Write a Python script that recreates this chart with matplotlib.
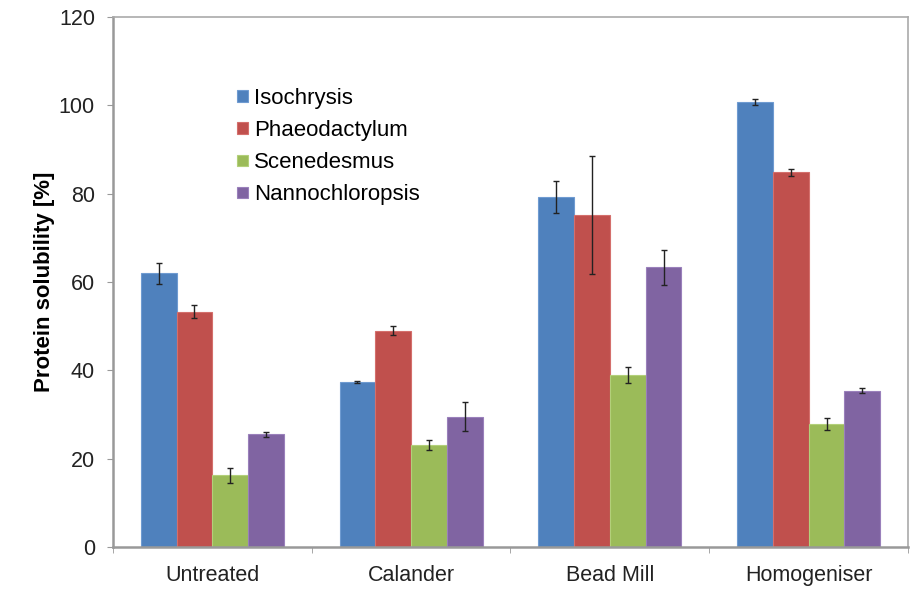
import numpy as np
import matplotlib.pyplot as plt

plt.rcParams['font.family'] = ['Liberation Sans', 'DejaVu Sans']

categories = ['Untreated', 'Calander', 'Bead Mill', 'Homogeniser']
species = ['Isochrysis', 'Phaeodactylum', 'Scenedesmus', 'Nannochloropsis']
colors = ['#4F81BD', '#C0504D', '#9BBB59', '#8064A2']
edges = ['#6f9bd1', '#d46f6c', '#b3d07a', '#9a80bb']

isochrysis = [62.0, 37.4, 79.3, 100.8]
phaeodactylum = [53.3, 49.0, 75.1, 84.8]
scenedesmus = [16.3, 23.1, 38.9, 27.8]
nannochloropsis = [25.5, 29.5, 63.3, 35.4]

isochrysis_err = [2.4, 0.2, 3.6, 0.7]
phaeodactylum_err = [1.4, 1.1, 13.4, 0.7]
scenedesmus_err = [1.7, 1.1, 1.8, 1.3]
nannochloropsis_err = [0.6, 3.3, 3.9, 0.6]

values = [isochrysis, phaeodactylum, scenedesmus, nannochloropsis]
errors = [isochrysis_err, phaeodactylum_err, scenedesmus_err, nannochloropsis_err]

fig = plt.figure(figsize=(9.12, 5.9), dpi=100)
ax = fig.add_axes([113/912, 43/590, 795/912, 530/590])

x = np.arange(len(categories))
w = 0.18
for i in range(4):
    pos = x + (i - 1.5) * w
    ax.bar(pos, values[i], w, color=colors[i], edgecolor=edges[i], linewidth=0.8,
           label=species[i], zorder=2)
    ax.errorbar(pos, values[i], yerr=errors[i], fmt='none', ecolor='#222222',
                elinewidth=1.0, capsize=2.5, capthick=1.0, zorder=3)

ax.set_xlim(-0.5, 3.5)
ax.set_ylim(0, 120)
ax.set_yticks(range(0, 121, 20))
ax.set_xticks(x)
ax.set_xticklabels(categories)
ax.set_xticks(np.arange(-0.5, 3.6, 1), minor=True)
ax.tick_params(axis='x', which='major', length=0, pad=13, labelsize=15.5, labelcolor='#222222')
ax.tick_params(axis='x', which='minor', length=4, color='#999999', direction='out')
ax.tick_params(axis='y', length=4, color='#999999', labelsize=15.5, pad=9, labelcolor='#222222')
for s in ax.spines.values():
    s.set_color('#aaaaaa')
    s.set_linewidth(1.2)
ax.spines['left'].set_color('#999999')
ax.spines['bottom'].set_color('#999999')
ax.spines['left'].set_linewidth(1.8)
ax.spines['bottom'].set_linewidth(1.8)

ax.set_ylabel('Protein solubility [%]', fontsize=16, fontweight='bold', labelpad=3)

ax.legend(loc='upper left', bbox_to_anchor=(0.156, 0.866), frameon=False,
          fontsize=16, handlelength=0.5, handleheight=0.42, handletextpad=0.25,
          labelspacing=0.5, borderaxespad=0, borderpad=0)

fig.savefig('out.png', dpi=100)
